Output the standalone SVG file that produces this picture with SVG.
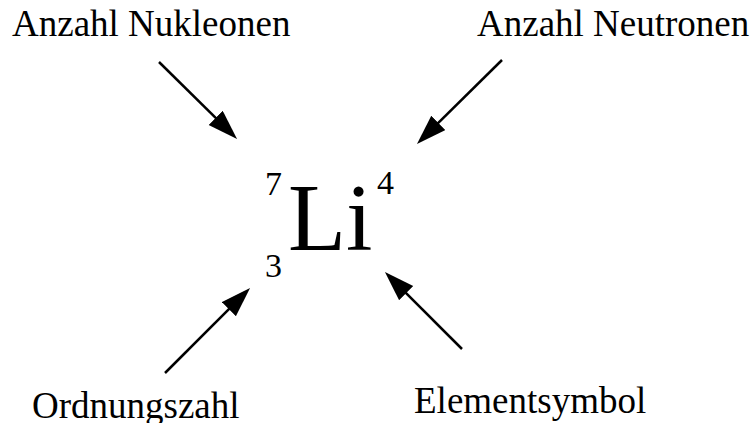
<svg xmlns="http://www.w3.org/2000/svg" width="752" height="423" viewBox="0 0 752 423">
<style>
.lbl{font-family:"Liberation Serif","Times New Roman",serif;font-size:37px;fill:#000}
.sym{font-family:"Liberation Serif","Times New Roman",serif;font-size:95px;fill:#000}
.idx{font-family:"Liberation Serif","Times New Roman",serif;font-size:34px;fill:#000}
.arr{stroke:#000;stroke-width:2.5;fill:none;marker-end:url(#ah)}
</style>
<defs>
<marker id="ah" markerUnits="userSpaceOnUse" markerWidth="32" markerHeight="22" refX="10" refY="10" orient="auto" viewBox="0 0 32 22">
<path d="M0,0 L30,10 L0,20 Z" fill="#000"/>
</marker>
</defs>
<rect width="752" height="423" fill="#fff"/>
<g id="nukleonen"><text class="lbl" x="12" y="36">Anzahl Nukleonen</text></g>
<g id="neutronen"><text class="lbl" x="477" y="36">Anzahl Neutronen</text></g>
<g id="ordnungszahl"><text class="lbl" x="32" y="418">Ordnungszahl</text></g>
<g id="elementsymbol"><text class="lbl" x="414" y="413">Elementsymbol</text></g>
<g id="symbol">
<text class="sym" x="288" y="250">Li</text>
<text class="idx" x="265" y="195">7</text>
<text class="idx" x="377" y="194">4</text>
<text class="idx" x="265" y="277">3</text>
</g>
<g id="connectors">
<line class="arr" x1="159" y1="62" x2="222.8" y2="124.9"/>
<line class="arr" x1="502" y1="60" x2="431.2" y2="129.9"/>
<line class="arr" x1="165" y1="373" x2="235.9" y2="302.1"/>
<line class="arr" x1="462" y1="349" x2="399.1" y2="286.1"/>
</g>
</svg>
